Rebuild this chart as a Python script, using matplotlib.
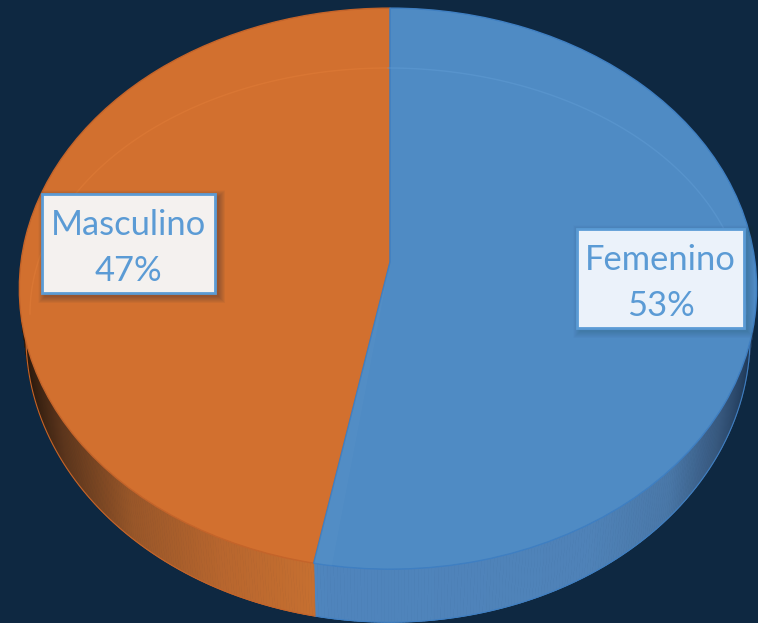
import numpy as np
import matplotlib
matplotlib.use('Agg')
import matplotlib.pyplot as plt
from matplotlib.patches import Rectangle, Polygon
from matplotlib.collections import PolyCollection
from matplotlib.transforms import Transform

categories = ['Femenino', 'Masculino']
percent = [53, 47]
top_colors = ['#4f8bc4', '#d2702f']
edge_colors = ['#3f7fc2', '#c4642a']
box_colors = ['#ebf2fa', '#f4f1ef']

BG = '#0e2841'
TEXT = '#5b9bd5'
XC, YC = 390, 262      # where the slices meet, in pixels
A, K = 278, 0.095
B_RIGHT, B_LEFT = 365, 369
DEPTH = 48
SHRINK = 0.982


# tilted disc: unit circle pie -> perspective view in pixel coords
class Tilt(Transform):
    input_dims = output_dims = 2

    def __init__(self, drop=0, scale=1.0):
        super().__init__()
        self.drop = drop
        self.scale = scale

    def transform_non_affine(self, xy):
        xy = np.asarray(xy)
        w = 1 + K * xy[:, 1]
        bx = np.where(xy[:, 0] < 0, B_LEFT, B_RIGHT)
        return np.column_stack([XC + self.scale * bx * xy[:, 0] / w,
                                YC + (self.drop - A * xy[:, 1]) / w])


def tilt(u, v, drop=0, scale=1.0):
    return Tilt(drop, scale).transform_non_affine(np.column_stack([u, v]))


def wall_color(px, idx):
    # wall gets dark towards the outer edges
    if idx == 1:
        stops_x = [25, 60, 130, 220, 320]
        stops = [(0.17, 0.10, 0.05), (0.36, 0.21, 0.11), (0.60, 0.34, 0.16),
                 (0.72, 0.40, 0.18), (0.78, 0.44, 0.19)]
    else:
        stops_x = [315, 590, 670, 720, 755]
        stops = [(0.31, 0.52, 0.74), (0.31, 0.51, 0.72), (0.29, 0.47, 0.66),
                 (0.22, 0.35, 0.50), (0.12, 0.22, 0.34)]
    return [np.interp(px, stops_x, [s[c] for s in stops]) for c in range(3)]


fig = plt.figure(figsize=(7.58, 6.23), dpi=100, facecolor=BG)
ax = fig.add_axes([0, 0, 1, 1])
wedges, _ = ax.pie(percent, colors=top_colors, startangle=90, counterclock=False, radius=1)
ax.set_aspect('auto')
ax.set_xlim(0, 758)
ax.set_ylim(623, 0)
ax.axis('off')

tr = Tilt() + ax.transData
for i, w in enumerate(wedges):
    # walls first, only the front part of the rim can be seen
    t1, t2 = w.theta1 % 360, w.theta2 % 360
    if t2 <= t1:
        t2 += 360
    th = np.radians(np.linspace(t1, t2, 400))
    th = th[np.sin(th) < 0.02]
    top = tilt(np.cos(th), np.sin(th))
    bot = tilt(np.cos(th), np.sin(th), DEPTH, SHRINK)
    quads = [[top[j], top[j + 1], bot[j + 1], bot[j]] for j in range(len(th) - 1)]
    cols = [wall_color(q[0][0], i) for q in quads]
    ax.add_collection(PolyCollection(quads, facecolors=cols, edgecolors=cols, linewidths=0.6, zorder=1))
    ax.plot(bot[:, 0], bot[:, 1], color=edge_colors[i], lw=0.8, zorder=1.5)

    # top face of the slice, blue one lies over the orange one
    w.set_transform(tr)
    w.set_edgecolor(edge_colors[i])
    w.set_linewidth(1.0)
    w.set_zorder(2.5 - i * 0.5)

# faint bevel ellipse on the top face
ang = np.radians(np.linspace(0, 90, 100))
for i, side in enumerate([1, -1]):
    ax.plot(388 + side * 358 * np.cos(ang), 314 - 246 * np.sin(ang),
            color=['#5f9bd3', '#e07c38'][i], lw=1, alpha=0.55, zorder=3)

# lighter facet next to the lower split
split = np.radians(90 - 3.6 * percent[0])
facet_end = tilt(np.cos(split + 0.045), np.sin(split + 0.045))
facet_start = tilt(np.cos(split), np.sin(split))
ax.add_patch(Polygon([[XC, YC], facet_start[0], facet_end[0]], closed=True,
                     facecolor='#6fa3d0', alpha=0.12, edgecolor='none', zorder=3))

# label boxes
boxes = [(577, 229, 167, 99), (42, 194, 173, 99)]
shadow = [0.012, 0.028]
for i, (x0, y0, bw, bh) in enumerate(boxes):
    for grow in range(14, 0, -1):
        ax.add_patch(Rectangle((x0 + 3 - grow / 2, y0 + 3 - grow / 2), bw + grow, bh + grow,
                               facecolor='#303030', alpha=shadow[i], edgecolor='none', zorder=4))
    ax.add_patch(Rectangle((x0, y0), bw, bh, facecolor=box_colors[i], edgecolor=TEXT, lw=2, zorder=5))
    ax.text(x0 + bw / 2, y0 + bh * 0.31, categories[i], color=TEXT, ha='center', va='center',
            fontsize=24.8, family='Lato', zorder=6)
    ax.text(x0 + bw / 2, y0 + bh * 0.775, '%d%%' % percent[i], color=TEXT, ha='center', va='center',
            fontsize=24.8, family='Lato', zorder=6)

fig.savefig('out.png', dpi=100, facecolor=BG)
